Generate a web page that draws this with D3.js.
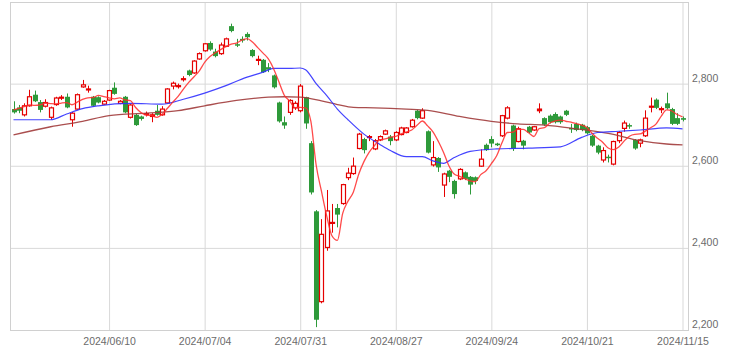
<!DOCTYPE html>
<html><head><meta charset="utf-8">
<script src="https://cdn.jsdelivr.net/npm/d3@7"></script>
<style>html,body{margin:0;padding:0;background:#fff;} svg{display:block;}</style>
</head><body>
<svg id="c" width="735" height="359"></svg>
<script>
const dates = [
"2024/05/15","2024/05/16","2024/05/17","2024/05/20","2024/05/21","2024/05/22","2024/05/23","2024/05/24","2024/05/27","2024/05/28","2024/05/29","2024/05/30","2024/05/31",
"2024/06/03","2024/06/04","2024/06/05","2024/06/06","2024/06/07","2024/06/10","2024/06/11","2024/06/12","2024/06/13","2024/06/14","2024/06/17","2024/06/18","2024/06/19","2024/06/20","2024/06/21","2024/06/24","2024/06/25","2024/06/26","2024/06/27","2024/06/28",
"2024/07/01","2024/07/02","2024/07/03","2024/07/04","2024/07/05","2024/07/08","2024/07/09","2024/07/10","2024/07/11","2024/07/12","2024/07/16","2024/07/17","2024/07/18","2024/07/19","2024/07/22","2024/07/23","2024/07/24","2024/07/25","2024/07/26","2024/07/29","2024/07/30","2024/07/31",
"2024/08/01","2024/08/02","2024/08/05","2024/08/06","2024/08/07","2024/08/08","2024/08/09","2024/08/13","2024/08/14","2024/08/15","2024/08/16","2024/08/19","2024/08/20","2024/08/21","2024/08/22","2024/08/23","2024/08/26","2024/08/27","2024/08/28","2024/08/29","2024/08/30",
"2024/09/02","2024/09/03","2024/09/04","2024/09/05","2024/09/06","2024/09/09","2024/09/10","2024/09/11","2024/09/12","2024/09/13","2024/09/17","2024/09/18","2024/09/19","2024/09/20","2024/09/24","2024/09/25","2024/09/26","2024/09/27","2024/09/30",
"2024/10/01","2024/10/02","2024/10/03","2024/10/04","2024/10/07","2024/10/08","2024/10/09","2024/10/10","2024/10/11","2024/10/15","2024/10/16","2024/10/17","2024/10/18","2024/10/21","2024/10/22","2024/10/23","2024/10/24","2024/10/25","2024/10/28","2024/10/29","2024/10/30","2024/10/31",
"2024/11/01","2024/11/05","2024/11/06","2024/11/07","2024/11/08","2024/11/11","2024/11/12","2024/11/13","2024/11/14","2024/11/15"];

const opens = [2738,2742,2724,2746,2773,2755,2745,2718,2749,2765,2768,2712,2738,
2792,2785,2768,2767,2750,2760,2790,2752,2768,2718,2724,2720,2725,2720,2734,2724,2753,2794,2793,2810,
2832,2826,2860,2880,2899,2878,2873,2891,2940,2896,2909,2921,2882,2857,2858,2840,2820,2754,2706,2730,2741,2734,
2767,2655,2489,2269,2401,2460,2497,2508,2571,2581,2642,2665,2669,2641,2663,2677,2671,2663,2676,2681,2695,
2734,2716,2684,2602,2619,2553,2588,2563,2568,2584,2573,2572,2599,2651,2665,2654,2673,2716,2698,
2659,2661,2695,2687,2734,2716,2722,2726,2720,2734,2692,2702,2700,2694,2673,2649,2614,2622,2604,2661,2691,2699,
2663,2655,2673,2743,2761,2737,2752,2738,2716,2716];
const highs = [2757,2748,2752,2785,2783,2760,2762,2744,2768,2772,2776,2731,2776,
2809,2795,2770,2769,2760,2785,2803,2760,2770,2750,2726,2722,2732,2728,2748,2745,2789,2805,2800,2818,
2834,2857,2876,2899,2903,2885,2900,2912,2946,2909,2915,2925,2884,2868,2860,2850,2822,2756,2720,2762,2757,2799,
2768,2660,2492,2470,2541,2507,2507,2556,2595,2620,2680,2668,2675,2665,2674,2688,2675,2684,2695,2694,2714,
2736,2740,2686,2660,2621,2583,2590,2566,2594,2586,2575,2574,2640,2654,2672,2656,2724,2745,2700,
2695,2663,2697,2697,2752,2718,2725,2730,2722,2736,2702,2705,2702,2697,2675,2651,2645,2627,2661,2684,2710,2703,
2665,2666,2735,2766,2764,2744,2778,2741,2728,2720];
const lows = [2727,2728,2720,2744,2755,2730,2742,2712,2746,2760,2740,2695,2736,
2790,2778,2744,2752,2748,2758,2773,2750,2728,2715,2697,2710,2720,2706,2722,2722,2751,2786,2788,2805,
2818,2824,2858,2878,2880,2864,2870,2889,2925,2889,2900,2905,2864,2845,2826,2828,2788,2705,2690,2724,2736,2730,
2690,2530,2207,2265,2393,2437,2450,2505,2565,2578,2640,2630,2660,2638,2660,2675,2650,2660,2674,2679,2693,
2713,2714,2630,2598,2585,2524,2560,2520,2565,2565,2530,2555,2597,2636,2645,2648,2670,2713,2636,
2657,2640,2679,2685,2728,2697,2703,2703,2702,2721,2680,2684,2684,2676,2646,2628,2608,2608,2601,2655,2683,2690,
2639,2645,2670,2730,2738,2728,2737,2699,2699,2708];
const closes = [2730,2734,2746,2768,2757,2736,2754,2741,2765,2767,2742,2728,2773,
2797,2787,2746,2754,2757,2783,2775,2757,2730,2748,2699,2714,2727,2724,2724,2738,2787,2801,2795,2812,
2821,2855,2873,2897,2883,2867,2894,2909,2928,2894,2905,2913,2867,2859,2828,2834,2791,2708,2698,2759,2752,2794,
2703,2535,2225,2433,2490,2462,2481,2554,2582,2599,2677,2638,2671,2661,2671,2685,2660,2681,2692,2692,2711,
2716,2734,2632,2620,2596,2580,2573,2531,2591,2568,2554,2563,2616,2638,2654,2650,2722,2741,2641,
2690,2649,2681,2695,2738,2700,2706,2706,2706,2724,2690,2687,2687,2679,2649,2632,2637,2619,2659,2681,2704,2697,
2642,2663,2716,2745,2741,2739,2740,2702,2702,2712];
// closes of the four sessions before the first visible candle (for the 5-day average)
const priorCloses = [2714, 2726, 2748, 2762];

// 25-day moving average at these session indexes
const ma25Idx  = [0,7,10,13,16,22,28,32,36,40,43,47,49,52,54,55,57,59,61,63,66,69,71,74,77,79,81,83,86,91,97,103,107,110,114,118,123,126];
const ma25Vals = [2712,2712,2726,2739,2746,2752,2750,2762,2777,2795,2811,2828,2837,2837,2838,2834,2800,2771,2738,2712,2677,2652,2637,2622,2622,2612,2606,2620,2635,2641,2643,2646,2669,2681,2684,2687,2692,2690];
// 75-day moving average
const ma75Idx  = [0,7,13,18,25,31,36,42,48,51,54,58,61,64,68,74,78,84,90,95,100,106,112,118,123,126];
const ma75Vals = [2675,2695,2708,2722,2728,2734,2746,2759,2767,2768,2767,2758,2749,2742,2741,2738,2735,2720,2708,2702,2699,2690,2679,2661,2653,2651];

const yTicks = [2200, 2400, 2600, 2800];
const xTickDates = ["2024/06/10","2024/07/04","2024/07/31","2024/08/27","2024/09/24","2024/10/21","2024/11/15"];

const plot = {left: 10, right: 688, top: 2, bottom: 330};
const svg = d3.select("#c");
const x = d3.scalePoint().domain(dates).range([13.5, 682.5]);
const y = d3.scaleLinear().domain([2200, 3000]).range([plot.bottom, 1.5]);

const FONT = "'Liberation Sans', Arial, sans-serif";
const GRID = "#d9d9d9";

// y grid + labels
const yAxis = svg.append("g").attr("transform", `translate(${plot.right},0)`)
  .call(d3.axisRight(y).tickValues(yTicks).tickSize(-(plot.right - plot.left)).tickPadding(4).tickFormat(d3.format(",")));
yAxis.select(".domain").remove();
yAxis.selectAll("line").attr("stroke", GRID);
yAxis.selectAll("text").attr("fill", "#6b6b6b").attr("font-size", "10.5px").attr("font-family", FONT).attr("dy", "-0.25em");

// x grid + labels
const xAxis = svg.append("g").attr("transform", `translate(0,${plot.bottom})`)
  .call(d3.axisBottom(x).tickValues(xTickDates).tickSize(-(plot.bottom - plot.top)).tickPadding(8));
xAxis.select(".domain").remove();
xAxis.selectAll("line").attr("stroke", GRID);
xAxis.selectAll("text").attr("fill", "#6b6b6b").attr("font-size", "10.5px").attr("font-family", FONT);

// border
svg.append("rect").attr("x", plot.left + 0.5).attr("y", plot.top + 0.5)
  .attr("width", plot.right - plot.left).attr("height", plot.bottom - plot.top)
  .attr("fill", "none").attr("stroke", "#d0d0d0");

const RED = "#e50000", GREEN = "#2e9a3a";
const candles = dates.map((d, i) => ({d, o: opens[i], h: highs[i], l: lows[i], c: closes[i]}));
const g = svg.append("g");
candles.forEach(k => {
  const cx = Math.round(x(k.d)) + 0.5;
  const up = k.c >= k.o;
  const top = y(Math.max(k.o, k.c)), bot = y(Math.min(k.o, k.c));
  if (up) {
    g.append("line").attr("x1", cx).attr("x2", cx).attr("y1", y(k.h)).attr("y2", top).attr("stroke", RED);
    g.append("line").attr("x1", cx).attr("x2", cx).attr("y1", bot).attr("y2", y(k.l)).attr("stroke", RED);
    const hgt = Math.max(bot - top, 1);
    g.append("rect").attr("x", cx - 2).attr("y", top).attr("width", 4).attr("height", hgt)
      .attr("fill", hgt > 2 ? "#fff" : RED).attr("stroke", RED).attr("stroke-width", 1.2);
  } else {
    g.append("line").attr("x1", cx).attr("x2", cx).attr("y1", y(k.h)).attr("y2", y(k.l)).attr("stroke", GREEN);
    g.append("rect").attr("x", cx - 2.5).attr("y", top).attr("width", 5).attr("height", Math.max(bot - top, 1.5))
      .attr("fill", GREEN);
  }
});

// moving averages
const all = priorCloses.concat(closes);
const ma5 = closes.map((c, i) => d3.mean(all.slice(i, i + 5)));
const line = d3.line().x(d => x(dates[d[0]])).y(d => y(d[1]));
const smooth = d3.line().x(d => x(dates[d[0]])).y(d => y(d[1])).curve(d3.curveMonotoneX);

svg.append("path").attr("d", smooth(ma75Idx.map((t, i) => [t, ma75Vals[i]])))
  .attr("fill", "none").attr("stroke", "#a13b3b").attr("stroke-width", 1.3).attr("opacity", 0.9);
svg.append("path").attr("d", smooth(ma25Idx.map((t, i) => [t, ma25Vals[i]])))
  .attr("fill", "none").attr("stroke", "#3030ff").attr("stroke-width", 1.2).attr("opacity", 0.9);
svg.append("path").attr("d", d3.line().x((v, i) => x(dates[i])).y(v => y(v)).curve(d3.curveMonotoneX)(ma5))
  .attr("fill", "none").attr("stroke", "#ff2a2a").attr("stroke-width", 1.3).attr("opacity", 0.85);
</script>
</body></html>
